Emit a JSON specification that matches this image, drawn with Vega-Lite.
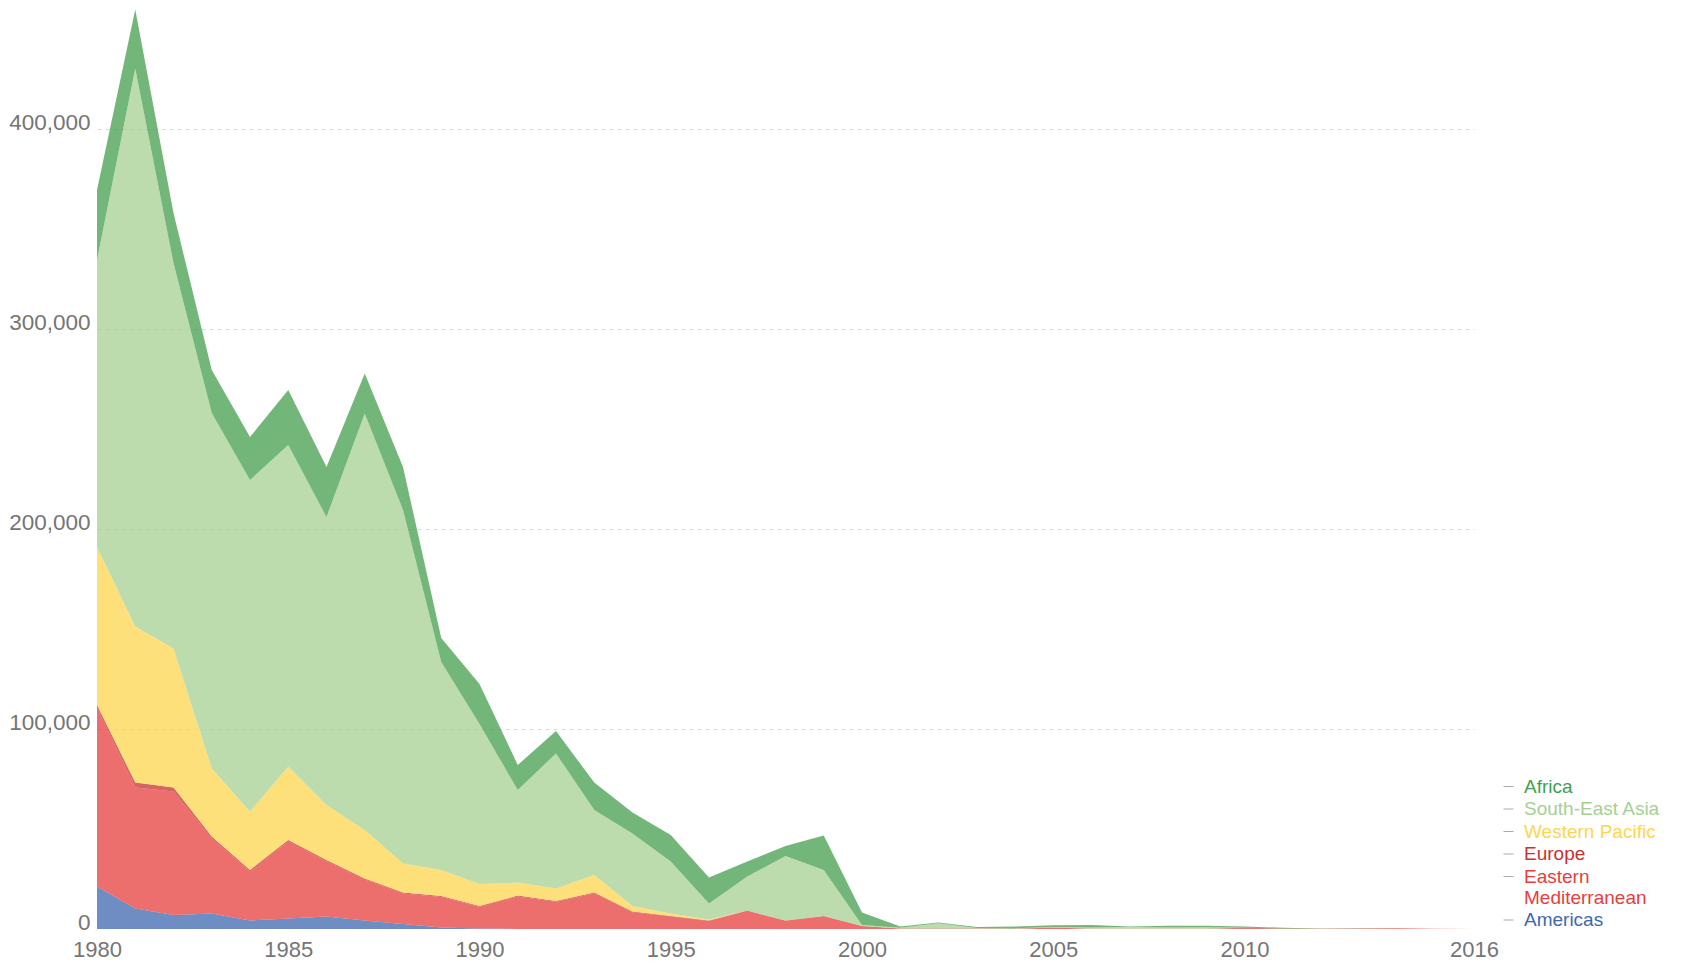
{
  "$schema": "https://vega.github.io/schema/vega-lite/v6.json",
  "width": 1377,
  "height": 920,
  "autosize": {"type": "none"},
  "padding": {"left": 97, "top": 9, "right": 209, "bottom": 36},
  "background": "white",
  "config": {"view": {"stroke": null}, "font": "Liberation Sans"},
  "data": {
    "values": [
      {"year": 1980, "Americas": 21200, "Eastern Mediterranean": 89300, "Europe": 1500, "Western Pacific": 79000, "South-East Asia": 143500, "Africa": 35000},
      {"year": 1981, "Americas": 10300, "Eastern Mediterranean": 60500, "Europe": 2400, "Western Pacific": 78000, "South-East Asia": 279100, "Africa": 29500},
      {"year": 1982, "Americas": 7000, "Eastern Mediterranean": 61700, "Europe": 2100, "Western Pacific": 69500, "South-East Asia": 192700, "Africa": 25000},
      {"year": 1983, "Americas": 7800, "Eastern Mediterranean": 37400, "Europe": 1000, "Western Pacific": 34100, "South-East Asia": 177700, "Africa": 21500},
      {"year": 1984, "Americas": 4200, "Eastern Mediterranean": 24600, "Europe": 700, "Western Pacific": 29200, "South-East Asia": 165800, "Africa": 21500},
      {"year": 1985, "Americas": 5300, "Eastern Mediterranean": 38500, "Europe": 700, "Western Pacific": 36700, "South-East Asia": 160800, "Africa": 27500},
      {"year": 1986, "Americas": 6200, "Eastern Mediterranean": 27700, "Europe": 600, "Western Pacific": 27500, "South-East Asia": 144000, "Africa": 25000},
      {"year": 1987, "Americas": 4200, "Eastern Mediterranean": 20600, "Europe": 500, "Western Pacific": 24200, "South-East Asia": 208300, "Africa": 20000},
      {"year": 1988, "Americas": 2500, "Eastern Mediterranean": 15200, "Europe": 500, "Western Pacific": 14600, "South-East Asia": 176700, "Africa": 21500},
      {"year": 1989, "Americas": 700, "Eastern Mediterranean": 15300, "Europe": 500, "Western Pacific": 13000, "South-East Asia": 104000, "Africa": 12000},
      {"year": 1990, "Americas": 200, "Eastern Mediterranean": 10900, "Europe": 400, "Western Pacific": 11000, "South-East Asia": 80000, "Africa": 20000},
      {"year": 1991, "Americas": 50, "Eastern Mediterranean": 16250, "Europe": 400, "Western Pacific": 6500, "South-East Asia": 46300, "Africa": 12500},
      {"year": 1992, "Americas": 20, "Eastern Mediterranean": 13600, "Europe": 380, "Western Pacific": 6300, "South-East Asia": 67500, "Africa": 11200},
      {"year": 1993, "Americas": 10, "Eastern Mediterranean": 17800, "Europe": 390, "Western Pacific": 8800, "South-East Asia": 32500, "Africa": 13700},
      {"year": 1994, "Americas": 0, "Eastern Mediterranean": 8400, "Europe": 300, "Western Pacific": 2800, "South-East Asia": 36300, "Africa": 10400},
      {"year": 1995, "Americas": 0, "Eastern Mediterranean": 6200, "Europe": 300, "Western Pacific": 1300, "South-East Asia": 25900, "Africa": 13300},
      {"year": 1996, "Americas": 0, "Eastern Mediterranean": 4000, "Europe": 200, "Western Pacific": 600, "South-East Asia": 8000, "Africa": 13000},
      {"year": 1997, "Americas": 0, "Eastern Mediterranean": 9100, "Europe": 100, "Western Pacific": 0, "South-East Asia": 17000, "Africa": 7500},
      {"year": 1998, "Americas": 0, "Eastern Mediterranean": 4100, "Europe": 100, "Western Pacific": 0, "South-East Asia": 32300, "Africa": 5000},
      {"year": 1999, "Americas": 0, "Eastern Mediterranean": 6400, "Europe": 100, "Western Pacific": 0, "South-East Asia": 23000, "Africa": 17300},
      {"year": 2000, "Americas": 0, "Eastern Mediterranean": 1500, "Europe": 0, "Western Pacific": 0, "South-East Asia": 500, "Africa": 6300},
      {"year": 2001, "Americas": 0, "Eastern Mediterranean": 300, "Europe": 0, "Western Pacific": 0, "South-East Asia": 300, "Africa": 600},
      {"year": 2002, "Americas": 0, "Eastern Mediterranean": 300, "Europe": 0, "Western Pacific": 0, "South-East Asia": 2600, "Africa": 400},
      {"year": 2003, "Americas": 0, "Eastern Mediterranean": 200, "Europe": 0, "Western Pacific": 0, "South-East Asia": 250, "Africa": 600},
      {"year": 2004, "Americas": 0, "Eastern Mediterranean": 150, "Europe": 0, "Western Pacific": 0, "South-East Asia": 150, "Africa": 900},
      {"year": 2005, "Americas": 0, "Eastern Mediterranean": 700, "Europe": 0, "Western Pacific": 0, "South-East Asia": 300, "Africa": 900},
      {"year": 2006, "Americas": 0, "Eastern Mediterranean": 100, "Europe": 0, "Western Pacific": 0, "South-East Asia": 700, "Africa": 1200},
      {"year": 2007, "Americas": 0, "Eastern Mediterranean": 100, "Europe": 0, "Western Pacific": 0, "South-East Asia": 900, "Africa": 300},
      {"year": 2008, "Americas": 0, "Eastern Mediterranean": 150, "Europe": 0, "Western Pacific": 0, "South-East Asia": 560, "Africa": 900},
      {"year": 2009, "Americas": 0, "Eastern Mediterranean": 150, "Europe": 0, "Western Pacific": 0, "South-East Asia": 740, "Africa": 700},
      {"year": 2010, "Americas": 0, "Eastern Mediterranean": 150, "Europe": 460, "Western Pacific": 0, "South-East Asia": 45, "Africa": 650},
      {"year": 2011, "Americas": 0, "Eastern Mediterranean": 200, "Europe": 0, "Western Pacific": 20, "South-East Asia": 1, "Africa": 350},
      {"year": 2012, "Americas": 0, "Eastern Mediterranean": 100, "Europe": 0, "Western Pacific": 0, "South-East Asia": 0, "Africa": 120},
      {"year": 2013, "Americas": 0, "Eastern Mediterranean": 300, "Europe": 0, "Western Pacific": 0, "South-East Asia": 0, "Africa": 100},
      {"year": 2014, "Americas": 0, "Eastern Mediterranean": 340, "Europe": 0, "Western Pacific": 0, "South-East Asia": 0, "Africa": 20},
      {"year": 2015, "Americas": 0, "Eastern Mediterranean": 70, "Europe": 0, "Western Pacific": 0, "South-East Asia": 0, "Africa": 0},
      {"year": 2016, "Americas": 0, "Eastern Mediterranean": 35, "Europe": 0, "Western Pacific": 0, "South-East Asia": 0, "Africa": 5}
    ]
  },
  "transform": [
    {"fold": ["Americas", "Eastern Mediterranean", "Europe", "Western Pacific", "South-East Asia", "Africa"], "as": ["region", "cases"]},
    {"calculate": "indexof(['Americas','Eastern Mediterranean','Europe','Western Pacific','South-East Asia','Africa'], datum.region)", "as": "stackOrder"}
  ],
  "mark": {"type": "area", "opacity": 0.75, "interpolate": "linear"},
  "encoding": {
    "x": {
      "field": "year",
      "type": "quantitative",
      "scale": {"domain": [1980, 2016], "nice": false, "zero": false},
      "axis": {
        "values": [1980, 1985, 1990, 1995, 2000, 2005, 2010, 2016],
        "format": "d",
        "title": null,
        "grid": false,
        "domain": false,
        "ticks": false,
        "labelFlush": false,
        "labelFont": "Liberation Sans",
        "labelFontSize": 22,
        "labelColor": "#757575",
        "labelPadding": 10
      }
    },
    "y": {
      "field": "cases",
      "type": "quantitative",
      "stack": "zero",
      "scale": {"domain": [0, 460000], "nice": false},
      "axis": {
        "values": [0, 100000, 200000, 300000, 400000],
        "format": ",d",
        "title": null,
        "domain": false,
        "ticks": false,
        "gridDash": [4, 4],
        "gridColor": "#d9d9d9",
        "gridWidth": 1,
        "gridOpacity": {"condition": {"test": "datum.value === 0", "value": 0}, "value": 1},
        "labelFont": "Liberation Sans",
        "labelFontSize": 22.5,
        "labelColor": "#757575",
        "labelPadding": 7,
        "labelBaseline": "alphabetic"
      }
    },
    "color": {
      "field": "region",
      "type": "nominal",
      "scale": {
        "domain": ["Africa", "South-East Asia", "Western Pacific", "Europe", "Eastern Mediterranean", "Americas"],
        "range": ["#439e4e", "#a6d092", "#fed64e", "#c9302f", "#e63e3c", "#3e68af"]
      },
      "legend": {
        "orient": "none",
        "legendX": 1402,
        "legendY": 768,
        "title": null,
        "padding": 0,
        "symbolType": "stroke",
        "symbolSize": 100,
        "symbolStrokeWidth": 1,
        "symbolStrokeColor": "#aaaaaa",
        "symbolOpacity": 1,
        "labelFont": "Liberation Sans",
        "labelFontSize": 19,
        "labelOffset": 6,
        "rowPadding": 2.5,
        "labelExpr": "datum.label == 'Eastern Mediterranean' ? ['Eastern', 'Mediterranean'] : datum.label",
        "encode": {
          "labels": {"update": {"fill": {"scale": "color", "field": "value"}, "lineHeight": {"value": 21}}},
          "symbols": {"update": {"stroke": {"value": "#aaaaaa"}, "fill": {"value": "transparent"}, "opacity": {"value": 1}}}
        }
      }
    },
    "order": {"field": "stackOrder", "type": "quantitative", "sort": "ascending"}
  }
}
